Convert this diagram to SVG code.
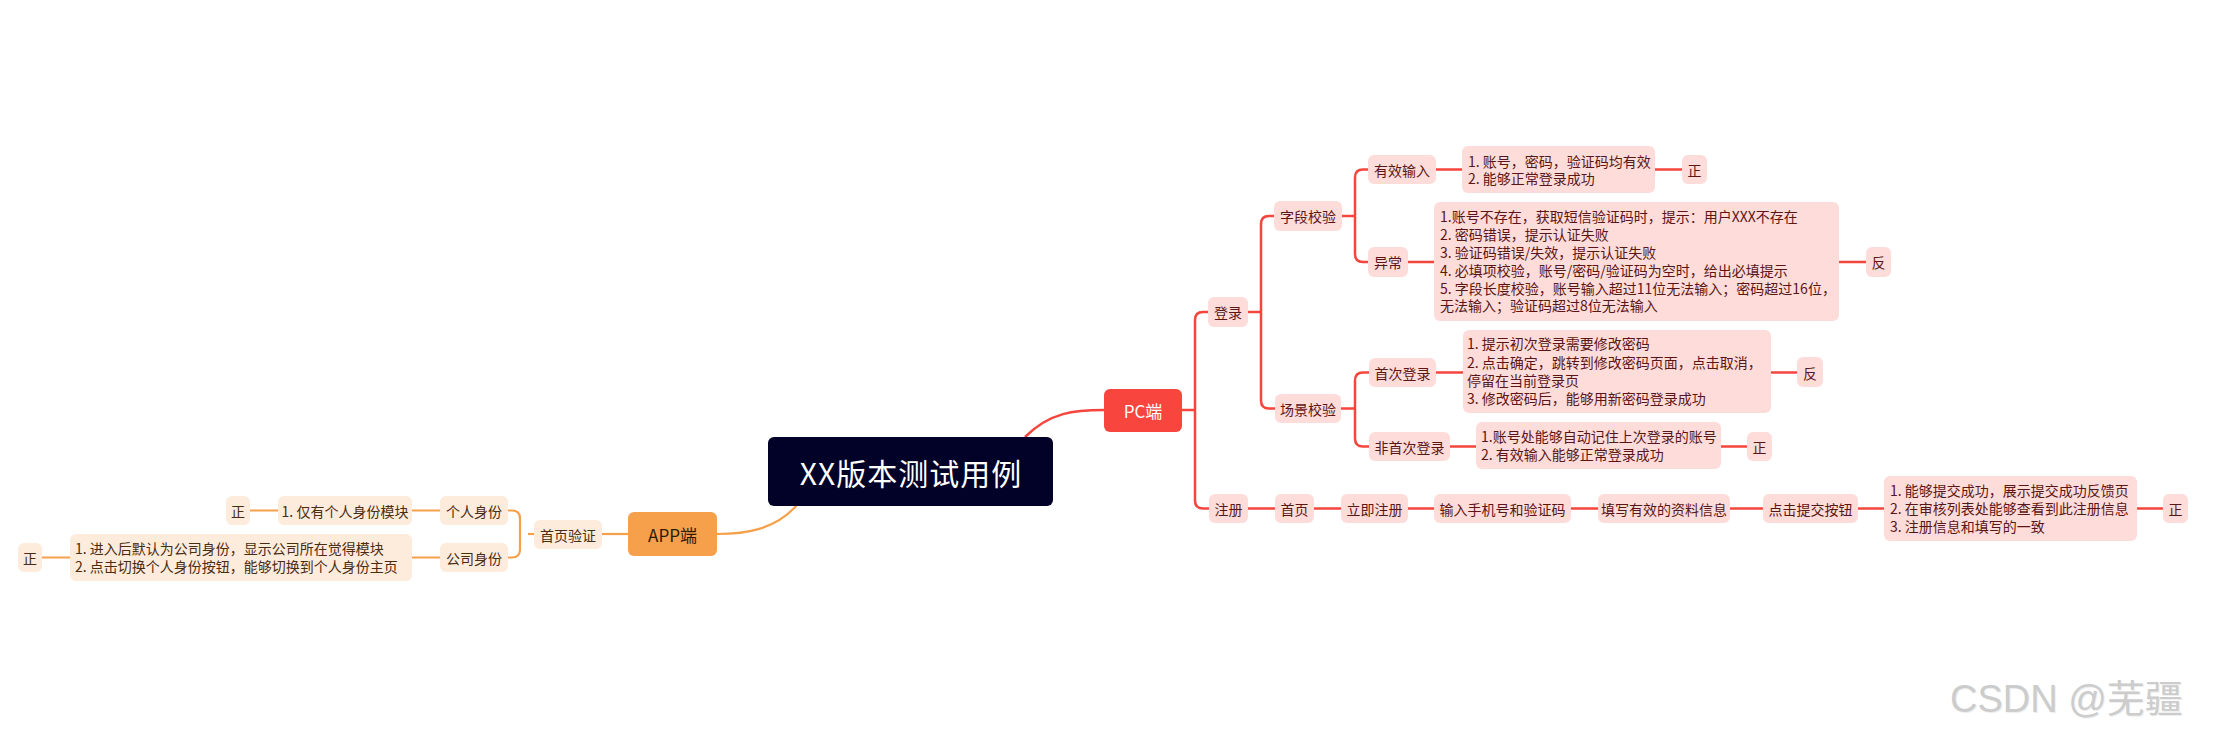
<svg xmlns="http://www.w3.org/2000/svg" width="2231" height="736" viewBox="0 0 2231 736">
<style>
text{font-family:"Noto Sans CJK SC","Noto Sans",sans-serif;font-size:14px}
.pn{fill:#FEDCDA}
.an{fill:#FDEBDC}
.pt{fill:#5A1616}
.at{fill:#4A2C10}
.c{text-anchor:middle;dominant-baseline:central}
.pc{fill:none;stroke:#F5453D;stroke-width:2.5}
.ap{fill:none;stroke:#F5A04A;stroke-width:2.2}
.wm{font-family:"Liberation Sans","Noto Sans CJK SC",sans-serif;font-size:38px}
</style>
<rect width="2231" height="736" fill="#ffffff"/>
<g id="connectors">
<path class="pc" d="M1025,437 C1050,412 1075,410 1104,410"/>
<path class="ap" d="M797,505 C775,530 745,534 717,534"/>
<path class="pc" d="M1182,410 H1195"/>
<path class="pc" d="M1208,312 H1203 Q1195,312 1195,320 V500.5 Q1195,508.5 1203,508.5 H1209"/>
<path class="pc" d="M1248,312 H1261"/>
<path class="pc" d="M1274,216 H1269 Q1261,216 1261,224 V400.5 Q1261,408.5 1269,408.5 H1275"/>
<path class="pc" d="M1342,216 H1355"/>
<path class="pc" d="M1368,169.5 H1363 Q1355,169.5 1355,177.5 V254 Q1355,262 1363,262 H1368"/>
<path class="pc" d="M1436,169.5 H1462 M1655,169.5 H1682"/>
<path class="pc" d="M1408,262 H1434 M1839,262 H1866"/>
<path class="pc" d="M1341,408.5 H1355"/>
<path class="pc" d="M1369,372.5 H1363 Q1355,372.5 1355,380.5 V438.5 Q1355,446.5 1363,446.5 H1369"/>
<path class="pc" d="M1436,372.5 H1463 M1771,372.5 H1797"/>
<path class="pc" d="M1450,446.5 H1476 M1721,446.5 H1747"/>
<path class="pc" d="M1248,508.5 H1275 M1314,508.5 H1341 M1408,508.5 H1434 M1571,508.5 H1598 M1730,508.5 H1763 M1858,508.5 H1884 M2137,508.5 H2163"/>
<path class="ap" d="M628,534 H602"/>
<path class="ap" d="M534,534 H528"/>
<path class="ap" d="M508,510.5 H512 Q520,510.5 520,518.5 V549.5 Q520,557.5 512,557.5 H508"/>
<path class="ap" d="M440,510.5 H412 M278,510.5 H250"/>
<path class="ap" d="M440,557.5 H412 M70,557.5 H42"/>
</g>
<g id="root">
<rect x="768" y="437" width="285" height="69" rx="6" fill="#020128"/>
<text x="911" y="471.5" class="c" style="font-size:30px;fill:#ffffff;letter-spacing:1px">XX版本测试用例</text>
</g>
<g id="pc">
<rect x="1104" y="389" width="78" height="43" rx="6" fill="#F8453E"/>
<text x="1143" y="410.5" class="c" style="font-size:17px;fill:#ffffff">PC端</text>
</g>
<g id="app">
<rect x="628" y="512" width="89" height="44" rx="6" fill="#F6A04C"/>
<text x="672.5" y="534" class="c" style="font-size:17px;fill:#2a1a08">APP端</text>
</g>
<g id="login"><rect class="pn" x="1208" y="297" width="40" height="30" rx="6"/><text class="pt c" x="1228" y="312">登录</text></g>
<g id="field"><rect class="pn" x="1274" y="201" width="68" height="30" rx="6"/><text class="pt c" x="1308" y="216">字段校验</text></g>
<g id="valid"><rect class="pn" x="1368" y="155" width="68" height="29" rx="6"/><text class="pt c" x="1402" y="169.5">有效输入</text></g>
<g id="valid-desc"><rect class="pn" x="1462" y="146" width="193" height="47" rx="6"/>
<text class="pt" x="1468" y="166.5">1. 账号，密码，验证码均有效</text>
<text class="pt" x="1468" y="184">2. 能够正常登录成功</text></g>
<g id="valid-pos"><rect class="pn" x="1682" y="155" width="25" height="29" rx="6"/><text class="pt c" x="1694.5" y="169.5">正</text></g>
<g id="abn"><rect class="pn" x="1368" y="247" width="40" height="30" rx="6"/><text class="pt c" x="1388" y="262">异常</text></g>
<g id="abn-desc"><rect class="pn" x="1434" y="202" width="405" height="119" rx="6"/>
<text class="pt" x="1440" y="222">1.账号不存在，获取短信验证码时，提示：用户XXX不存在</text>
<text class="pt" x="1440" y="240">2. 密码错误，提示认证失败</text>
<text class="pt" x="1440" y="258">3. 验证码错误/失效，提示认证失败</text>
<text class="pt" x="1440" y="275.5">4. 必填项校验，账号/密码/验证码为空时，给出必填提示</text>
<text class="pt" x="1440" y="293.5">5. 字段长度校验，账号输入超过11位无法输入；密码超过16位，</text>
<text class="pt" x="1440" y="311">无法输入；验证码超过8位无法输入</text></g>
<g id="abn-neg"><rect class="pn" x="1866" y="247" width="25" height="30" rx="6"/><text class="pt c" x="1878.5" y="262">反</text></g>
<g id="scene"><rect class="pn" x="1275" y="394" width="66" height="29" rx="6"/><text class="pt c" x="1308" y="408.5">场景校验</text></g>
<g id="first"><rect class="pn" x="1369" y="358" width="67" height="29" rx="6"/><text class="pt c" x="1402.5" y="372.5">首次登录</text></g>
<g id="first-desc"><rect class="pn" x="1463" y="330" width="308" height="83" rx="6"/>
<text class="pt" x="1467" y="349">1. 提示初次登录需要修改密码</text>
<text class="pt" x="1467" y="368">2. 点击确定，跳转到修改密码页面，点击取消，</text>
<text class="pt" x="1467" y="386">停留在当前登录页</text>
<text class="pt" x="1467" y="404">3. 修改密码后，能够用新密码登录成功</text></g>
<g id="first-neg"><rect class="pn" x="1797" y="357" width="26" height="30" rx="6"/><text class="pt c" x="1810" y="372.5">反</text></g>
<g id="nonfirst"><rect class="pn" x="1369" y="432" width="81" height="29" rx="6"/><text class="pt c" x="1409.5" y="446.5">非首次登录</text></g>
<g id="nonfirst-desc"><rect class="pn" x="1476" y="422" width="245" height="47" rx="6"/>
<text class="pt" x="1481" y="442">1.账号处能够自动记住上次登录的账号</text>
<text class="pt" x="1481" y="460">2. 有效输入能够正常登录成功</text></g>
<g id="nonfirst-pos"><rect class="pn" x="1747" y="432" width="25" height="29" rx="6"/><text class="pt c" x="1759.5" y="446.5">正</text></g>
<g id="reg"><rect class="pn" x="1209" y="494" width="39" height="29" rx="6"/><text class="pt c" x="1228.5" y="508.5">注册</text></g>
<g id="home"><rect class="pn" x="1275" y="494" width="39" height="29" rx="6"/><text class="pt c" x="1294.5" y="508.5">首页</text></g>
<g id="regnow"><rect class="pn" x="1341" y="494" width="67" height="29" rx="6"/><text class="pt c" x="1374.5" y="508.5">立即注册</text></g>
<g id="phone"><rect class="pn" x="1434" y="494" width="137" height="29" rx="6"/><text class="pt c" x="1502.5" y="508.5">输入手机号和验证码</text></g>
<g id="fill"><rect class="pn" x="1598" y="494" width="132" height="29" rx="6"/><text class="pt c" x="1664" y="508.5">填写有效的资料信息</text></g>
<g id="submit"><rect class="pn" x="1763" y="494" width="95" height="29" rx="6"/><text class="pt c" x="1810.5" y="508.5">点击提交按钮</text></g>
<g id="reg-desc"><rect class="pn" x="1884" y="476" width="253" height="65" rx="6"/>
<text class="pt" x="1890" y="496">1. 能够提交成功，展示提交成功反馈页</text>
<text class="pt" x="1890" y="514">2. 在审核列表处能够查看到此注册信息</text>
<text class="pt" x="1890" y="532">3. 注册信息和填写的一致</text></g>
<g id="reg-pos"><rect class="pn" x="2163" y="494" width="25" height="29" rx="6"/><text class="pt c" x="2175.5" y="508.5">正</text></g>
<g id="appverify"><rect class="an" x="534" y="520" width="68" height="29" rx="6"/><text class="at c" x="568" y="534.5">首页验证</text></g>
<g id="personal"><rect class="an" x="440" y="496" width="68" height="29" rx="6"/><text class="at c" x="474" y="510.5">个人身份</text></g>
<g id="personal-desc"><rect class="an" x="278" y="496" width="134" height="29" rx="6"/><text class="at c" x="345" y="510.5">1. 仅有个人身份模块</text></g>
<g id="personal-pos"><rect class="an" x="226" y="496" width="24" height="29" rx="6"/><text class="at c" x="238" y="510.5">正</text></g>
<g id="company"><rect class="an" x="440" y="543" width="68" height="29" rx="6"/><text class="at c" x="474" y="557.5">公司身份</text></g>
<g id="company-desc"><rect class="an" x="70" y="534" width="342" height="47" rx="6"/>
<text class="at" x="75" y="554">1. 进入后默认为公司身份，显示公司所在觉得模块</text>
<text class="at" x="75" y="572">2. 点击切换个人身份按钮，能够切换到个人身份主页</text></g>
<g id="company-pos"><rect class="an" x="18" y="543" width="24" height="29" rx="6"/><text class="at c" x="30" y="557.5">正</text></g>
<text class="wm" x="1951" y="713" fill="#eeeeee">CSDN @芜疆</text>
<text class="wm" x="1950" y="712" fill="#cccccc">CSDN @芜疆</text>
</svg>
